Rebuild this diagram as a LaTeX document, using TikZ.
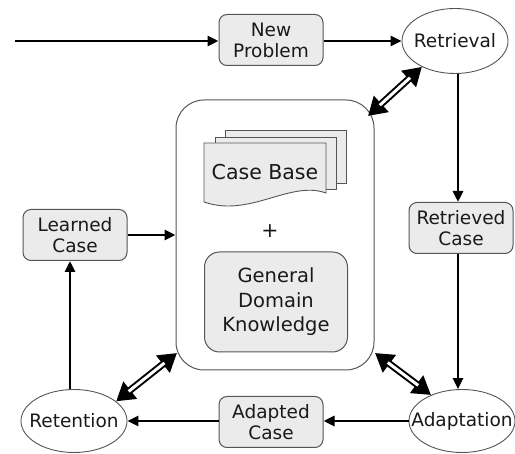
\documentclass[tikz,border=0pt]{standalone}
\usepackage{fontspec}
\setmainfont{DejaVu Sans}
\usetikzlibrary{arrows.meta,shapes.geometric}
\definecolor{boxfill}{HTML}{EBEBEB}
\definecolor{boxline}{HTML}{555555}
\tikzset{
  lbl/.style={font=\fontsize{18.5}{21}\selectfont, align=center, text=black!90},
  casebox/.style={lbl, draw=boxline, fill=boxfill, rounded corners=8pt, line width=1pt,
    minimum width=104pt, minimum height=51pt, inner sep=0pt},
  % the ellipse is sized on its own; its word is set as a centred label
  phase/.style={ellipse, draw=boxline, fill=white, line width=0.9pt,
    minimum width=106pt, minimum height=65pt, inner sep=0pt,
    label={[lbl]center:#1}},
  flow/.style={line width=2.8pt, -{Triangle[length=11pt,width=10pt]}},
  dblarrow/.style={line width=7pt,
    {Triangle[length=18pt,width=21pt]}-{Triangle[length=18pt,width=21pt]}},
  dblcore/.style={white, line width=3pt, shorten <=16pt, shorten >=16pt},
  layer/.style={draw=boxline, fill=boxfill, line width=0.9pt},
}
\begin{document}
\begin{tikzpicture}[x=1pt,y=-1pt]
\useasboundingbox (0,0) rectangle (515,454);

% knowledge container
\node[draw=boxline, line width=1pt, rounded corners=28pt, minimum width=198pt,
      minimum height=270pt, inner sep=0pt] (kb) at (275,235) {};

% stacked case-base documents
\draw[layer] (225,130) rectangle (346,183);
\draw[layer] (215,137) rectangle (336,189);
\draw[layer] (204,143) -- (326,143) -- (326,193)
  .. controls (290,180) and (250,218) .. (204,202) -- cycle;
\node[lbl, font=\fontsize{20.5}{23}\selectfont] (cb) at (265,172) {Case Base};
\node[lbl, font=\fontsize{20.5}{23}\selectfont] (plus) at (270,231) {+};
\node[lbl, draw=boxline, fill=boxfill, rounded corners=15pt, line width=1pt,
      minimum width=143pt, minimum height=100pt, inner sep=0pt,
      font=\fontsize{19.5}{24.5}\selectfont] (gdk) at (276,302)
      {General\\Domain\\Knowledge};

% process phases
\node[phase=Retrieval] (retr) at (455,41) {};
\node[phase=Adaptation, minimum height=63pt] (adap) at (462,421) {};
\node[phase=Retention, minimum height=63pt] (rete) at (74,421) {};

% cases passed between phases
\node[casebox] (np) at (271,40) {New\\Problem};
\node[casebox] (rc) at (461,228) {Retrieved\\Case};
\node[casebox] (ac) at (271,422) {Adapted\\Case};
\node[casebox] (lc) at (75,235) {Learned\\Case};

% main cycle
\coordinate (in) at (15,41);
\coordinate (vX) at (458,0);
\coordinate (lcX) at (70,0);
\draw[flow] (in) -- (np.west |- in);
\draw[flow] (np.east |- in) -- (retr.west |- in);
\draw[flow] (retr.south -| vX) -- (rc.north -| vX);
\draw[flow] (rc.south -| vX) -- (adap.north -| vX);
\draw[flow] (adap.west) -- (ac.east |- adap.west);
\draw[flow] (ac.west |- adap.west) -- (rete.east |- adap.west);
\draw[flow] (rete.north -| lcX) -- (lc.south -| lcX);
\draw[flow] (lc.east) -- (kb.west |- lc.east);

% knowledge exchange
\coordinate (kbNE) at (368,116);
\coordinate (kbSE) at (375,353);
\coordinate (kbSW) at (177,353);
\draw[dblarrow] (kbNE) -- (retr.218);
\draw[dblcore] (kbNE) -- (retr.218);
\draw[dblarrow] (kbSE) -- (adap.140);
\draw[dblcore] (kbSE) -- (adap.140);
\draw[dblarrow] (kbSW) -- (rete.25);
\draw[dblcore] (kbSW) -- (rete.25);
\end{tikzpicture}
\end{document}
